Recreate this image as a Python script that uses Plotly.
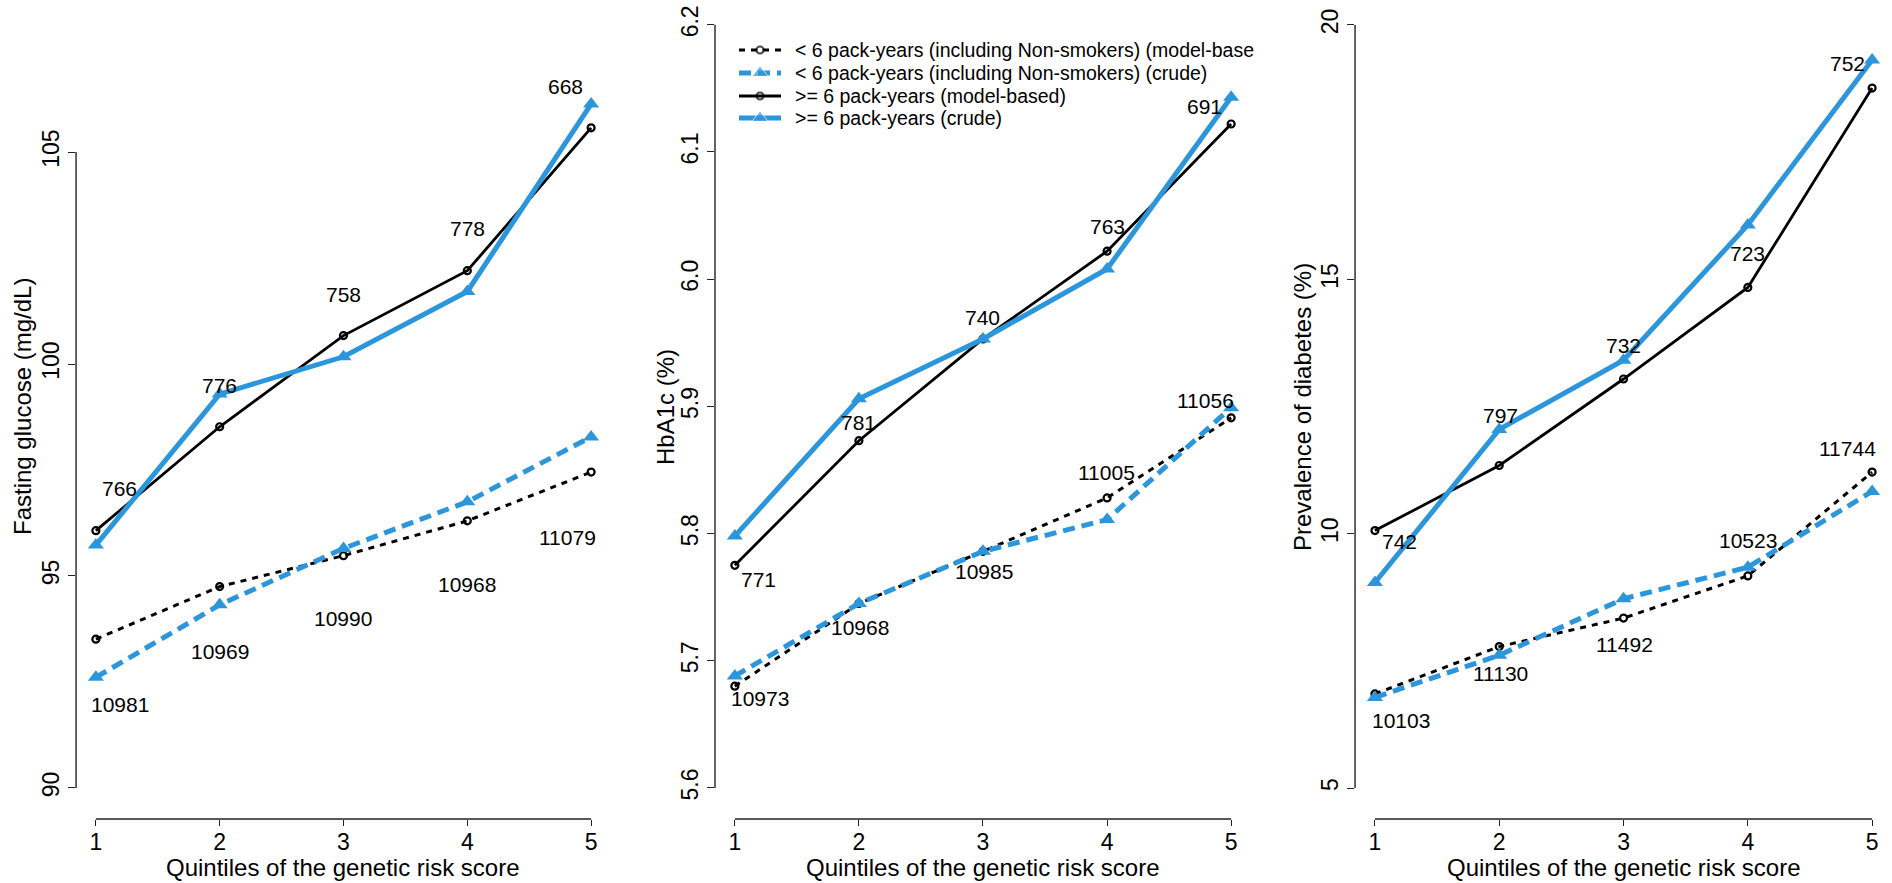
import plotly.graph_objects as go

# ---------------- data ----------------
quintiles = [1, 2, 3, 4, 5]

# Fasting glucose (mg/dL)
fg_lt6_model = [93.51, 94.75, 95.48, 96.30, 97.45]
fg_lt6_crude = [92.61, 94.32, 95.65, 96.75, 98.28]
fg_ge6_model = [96.07, 98.52, 100.67, 102.20, 105.57]
fg_ge6_crude = [95.73, 99.29, 100.17, 101.71, 106.13]
fg_n_lt6 = ["10981", "10969", "10990", "10968", "11079"]
fg_n_ge6 = ["766", "776", "758", "778", "668"]

# HbA1c (%)
hb_lt6_model = [5.680, 5.745, 5.786, 5.828, 5.891]
hb_lt6_crude = [5.688, 5.745, 5.786, 5.811, 5.899]
hb_ge6_model = [5.775, 5.873, 5.953, 6.022, 6.122]
hb_ge6_crude = [5.798, 5.906, 5.953, 6.008, 6.143]
hb_n_lt6 = ["10973", "10968", "10985", "11005", "11056"]
hb_n_ge6 = ["771", "781", "740", "763", "691"]

# Prevalence of diabetes (%)
pd_lt6_model = [6.85, 7.78, 8.34, 9.17, 11.21]
pd_lt6_crude = [6.78, 7.61, 8.72, 9.34, 10.83]
pd_ge6_model = [10.06, 11.34, 13.04, 14.84, 18.76]
pd_ge6_crude = [9.04, 12.05, 13.41, 16.07, 19.31]
pd_n_lt6 = ["10103", "11130", "11492", "10523", "11744"]
pd_n_ge6 = ["742", "797", "732", "723", "752"]

series_names = [
    "< 6 pack-years (including Non-smokers) (model-base",
    "< 6 pack-years (including Non-smokers) (crude)",
    ">= 6 pack-years (model-based)",
    ">= 6 pack-years (crude)",
]
y_titles = ["Fasting glucose (mg/dL)", "HbA1c (%)", "Prevalence of diabetes (%)"]
x_title = "Quintiles of the genetic risk score"
y_tickvals = [[90, 95, 100, 105], [5.6, 5.7, 5.8, 5.9, 6.0, 6.1, 6.2], [5, 10, 15, 20]]

panels = [
    (fg_lt6_model, fg_lt6_crude, fg_ge6_model, fg_ge6_crude, fg_n_lt6, fg_n_ge6),
    (hb_lt6_model, hb_lt6_crude, hb_ge6_model, hb_ge6_crude, hb_n_lt6, hb_n_ge6),
    (pd_lt6_model, pd_lt6_crude, pd_ge6_model, pd_ge6_crude, pd_n_lt6, pd_n_ge6),
]

# ---------------- layout / style ----------------
W, H = 1892, 883
BLUE = "#2B96DC"
FONT = "Liberation Sans, Arial, sans-serif"
x_domains = [[0.0402, 0.3229], [0.3779, 0.6612], [0.7162, 1.0]]
x_range = [0.84, 5.16]
y_domain = [0.0725, 1.0]
y_ranges = [[89.269, 108.585], [5.5756, 6.2195], [4.391, 20.491]]
y_tickformat = ["d", ".1f", "d"]
y_title_px = [22, 665, 1302]

# label pixel offsets (dx, dy; dy positive = downward) relative to model-based points
off_ge6 = [
    [(24, -42), (0, -41), (0, -41), (0, -42), (-26, -41)],
    [(24, 14), (0, -18), (0, -21), (0, -25), (-27, -18)],
    [(25, 11), (1, -50), (0, -34), (0, -34), (-25, -25)],
]
off_lt6 = [
    [(24, 65), (0, 65), (0, 63), (0, 64), (-24, 65)],
    [(25, 12), (1, 24), (1, 20), (-1, -25), (-26, -17)],
    [(26, 27), (1, 27), (1, 26), (0, -35), (-25, -24)],
]

styles = [
    dict(line=dict(color="black", width=3, dash="6px,6px"),
         marker=dict(symbol="circle-open", size=7, color="black", line=dict(width=2.2, color="black"))),
    dict(line=dict(color=BLUE, width=5, dash="12px,7px"),
         marker=dict(symbol="triangle-up", size=14, color=BLUE)),
    dict(line=dict(color="black", width=2.8),
         marker=dict(symbol="circle-open", size=7, color="black", line=dict(width=2.2, color="black"))),
    dict(line=dict(color=BLUE, width=5),
         marker=dict(symbol="triangle-up", size=14, color=BLUE)),
]

fig = go.Figure()
annotations = []
shapes = []
layout_axes = {}

for p, data in enumerate(panels):
    xa = "x" if p == 0 else f"x{p+1}"
    ya = "y" if p == 0 else f"y{p+1}"
    series = data[:4]
    for s, vals in enumerate(series):
        fig.add_trace(go.Scatter(
            x=quintiles, y=vals, mode="lines+markers", name=series_names[s],
            xaxis=xa, yaxis=ya, showlegend=False, **styles[s]))
    n_lt6, n_ge6 = data[4], data[5]
    model_lt6, model_ge6 = data[0], data[2]
    for i, q in enumerate(quintiles):
        dx, dy = off_ge6[p][i]
        annotations.append(dict(x=q, y=model_ge6[i], xref=xa, yref=ya, text=n_ge6[i],
                                showarrow=False, xshift=dx, yshift=-dy,
                                font=dict(size=21, color="black", family=FONT)))
        dx, dy = off_lt6[p][i]
        annotations.append(dict(x=q, y=model_lt6[i], xref=xa, yref=ya, text=n_lt6[i],
                                showarrow=False, xshift=dx, yshift=-dy,
                                font=dict(size=21, color="black", family=FONT)))
    # axis titles
    annotations.append(dict(x=3, xref=xa, y=(H - 867) / H, yref="paper", text=x_title,
                            showarrow=False, yanchor="middle",
                            font=dict(size=24, color="black", family=FONT)))
    annotations.append(dict(x=y_title_px[p] / W, xref="paper", y=1 - 407 / H, yref="paper",
                            text=y_titles[p], textangle=-90, showarrow=False,
                            xanchor="center", yanchor="middle",
                            font=dict(size=24, color="black", family=FONT)))
    # R-style axis lines spanning only the tick range
    shapes.append(dict(type="line", xref=xa, yref=f"{ya} domain", x0=1, x1=5, y0=0, y1=0,
                       line=dict(color="#222", width=1.4)))
    shapes.append(dict(type="line", xref=f"{xa} domain", yref=ya, x0=0, x1=0,
                       y0=min(y_tickvals[p]), y1=max(y_tickvals[p]),
                       line=dict(color="#222", width=1.4)))
    key_x = "xaxis" if p == 0 else f"xaxis{p+1}"
    key_y = "yaxis" if p == 0 else f"yaxis{p+1}"
    layout_axes[key_x] = dict(domain=x_domains[p], range=x_range, anchor=ya,
                              tickvals=quintiles, ticks="outside", ticklen=6, tickwidth=1.4,
                              tickcolor="#222", showline=False, showgrid=False, zeroline=False,
                              ticklabelstandoff=-4,
                              tickfont=dict(size=23, color="black", family=FONT))
    layout_axes[key_y] = dict(domain=y_domain, range=y_ranges[p], anchor=xa,
                              tickvals=y_tickvals[p], tickformat=y_tickformat[p],
                              ticks="outside", ticklen=7, tickwidth=1.4, tickcolor="#222",
                              tickangle=-90, showline=False, showgrid=False, zeroline=False,
                              tickfont=dict(size=23, color="black", family=FONT))

# ---------------- hand-built legend (R style, tight rows) ----------------
# an overlay axis in pixel units, used only to place the legend keys
layout_axes["xaxis4"] = dict(domain=[0, 1], range=[0, W], visible=False, anchor="y4",
                             fixedrange=True)
layout_axes["yaxis4"] = dict(domain=[0, 1], range=[H, 0], visible=False, anchor="x4",
                             fixedrange=True)
leg_rows = [50, 73, 96, 118]
leg_key_x = [739, 760, 781]
leg_text_x = 793
for s in range(4):
    st = styles[s]
    mk = dict(st["marker"])
    mk["size"] = [0, st["marker"]["size"], 0]
    fig.add_trace(go.Scatter(
        x=leg_key_x, y=[leg_rows[s]] * 3, mode="lines+markers",
        line=st["line"], marker=mk, xaxis="x4", yaxis="y4",
        showlegend=False, hoverinfo="skip"))
    annotations.append(dict(x=leg_text_x / W, xref="paper", y=1 - leg_rows[s] / H, yref="paper",
                            text=series_names[s], showarrow=False, xanchor="left",
                            yanchor="middle",
                            font=dict(size=19.5, color="black", family=FONT)))

fig.update_layout(
    width=W, height=H,
    margin=dict(l=0, r=0, t=0, b=0),
    paper_bgcolor="white", plot_bgcolor="rgba(0,0,0,0)",
    font=dict(family=FONT, color="black"),
    annotations=annotations, shapes=shapes,
    showlegend=False,
    **layout_axes,
)

fig.write_html("out.html")
